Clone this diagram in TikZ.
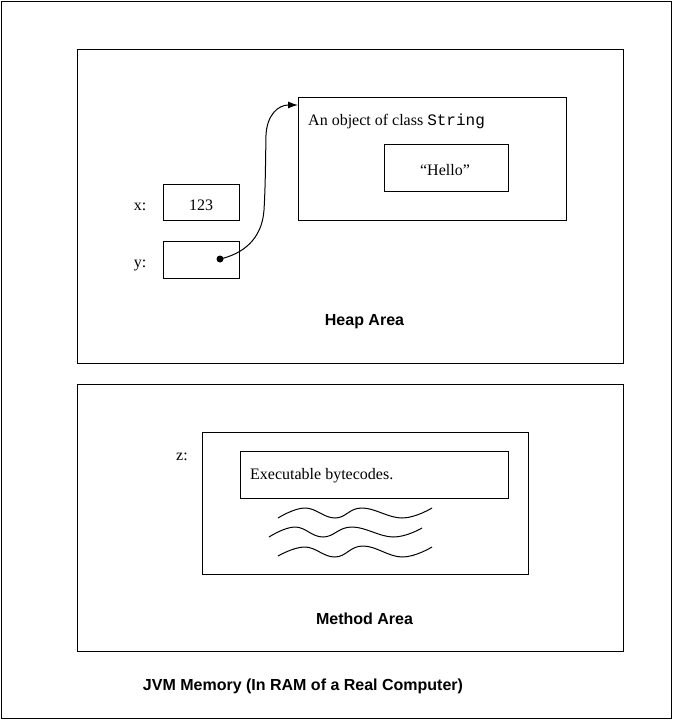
\documentclass[tikz,border=0pt]{standalone}
\usepackage{fontspec}
\setmainfont{Liberation Serif}
\setmonofont{Liberation Mono}
\newfontfamily\arialf{Liberation Sans}
\usetikzlibrary{arrows.meta}
\begin{document}
\begin{tikzpicture}[x=1pt,y=-1pt,
  box/.style={draw, line width=1pt, inner sep=0pt, anchor=north west},
  serif/.style={font=\fontsize{16}{19}\selectfont, inner sep=0pt, anchor=base},
  title/.style={font=\arialf\bfseries\fontsize{16}{19}\selectfont, inner sep=0pt, anchor=base},
  wave/.style={line width=1pt},
  ref/.style={line width=1pt, -{Latex[length=10pt,width=7pt]}}]
\useasboundingbox (0,0) rectangle (672,720);
% frames
\node[box, minimum width=670pt, minimum height=717pt] (jvm) at (1,1) {};
\node[box, minimum width=546pt, minimum height=314pt] (heap) at (77,49) {};
\node[box, minimum width=546pt, minimum height=267pt] (method) at (77,384) {};
% heap contents
\node[box, minimum width=76pt, minimum height=36pt] (xbox) at (163,184) {};
\node[box, minimum width=76pt, minimum height=37pt] (ybox) at (163,241) {};
\node[box, minimum width=268pt, minimum height=123pt] (obj) at (298,97) {};
\node[box, minimum width=124pt, minimum height=47pt] (hello) at (384,144) {};
\node[serif] (xl) at (140,210) {x:};
\node[serif] (yl) at (140,267) {y:};
\node[serif] (n123) at (201,210) {123};
\node[serif, anchor=base west] (objt) at (308,125) {An object of class \texttt{String}};
\node[serif] (hellot) at (445,175) {“Hello”};
\node[title] (heapt) at (364.5,325) {Heap Area};
% reference arrow
\node[circle, fill, inner sep=0pt, minimum size=7pt] (dot) at (220,259) {};
\coordinate (tip) at (298,105);
\draw[ref] (dot.center) .. controls (242,254) and (262,240) .. (264,210)
  .. controls (265.5,185) and (265.5,160) .. (266,135)
  .. controls (267,115) and (278,105) .. (tip);
% method contents
\node[box, minimum width=326pt, minimum height=142pt] (code) at (202,432) {};
\node[box, minimum width=268pt, minimum height=47pt] (bytes) at (240,451) {};
\node[serif] (zl) at (182,460) {z:};
\node[serif, anchor=base west] (bytet) at (250,479) {Executable bytecodes.};
\draw[wave] plot[smooth, tension=0.7] coordinates {(278,518) (305,508) (335,518) (362,508) (402,518) (432,508)};
\draw[wave] plot[smooth, tension=0.7] coordinates {(269,537) (295,527) (323,537) (352,527) (393,537) (422,528)};
\draw[wave] plot[smooth, tension=0.7] coordinates {(278,556) (305,547) (335,557) (363,546) (402,557) (432,547)};
\node[title] (metht) at (364.5,624) {Method Area};
\node[title] (jvmt) at (303,690) {JVM Memory (In RAM of a Real Computer)};
\end{tikzpicture}
\end{document}
